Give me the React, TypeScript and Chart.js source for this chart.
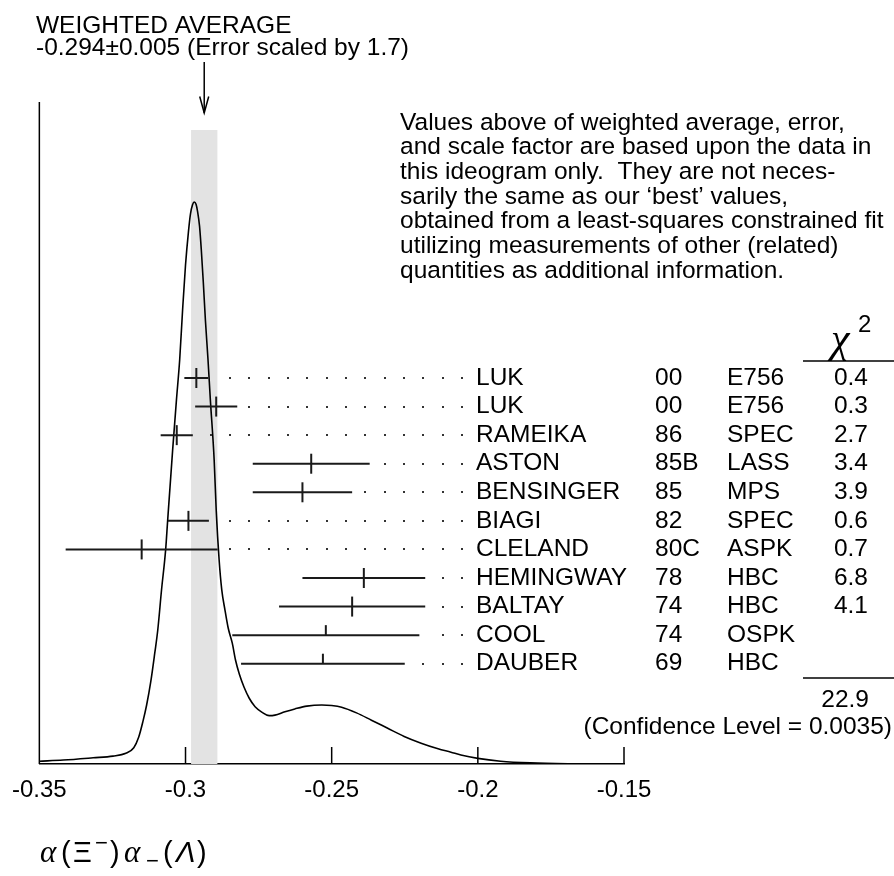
import React, { useEffect, useRef } from 'react';
import { Chart, registerables } from 'chart.js';

Chart.register(...registerables);

const FONT = "'Liberation Sans', Arial, Helvetica, sans-serif";
const SERIF = "'Liberation Serif', 'DejaVu Serif', serif";

const TITLE_LINES = ['WEIGHTED AVERAGE', '-0.294\u00b10.005 (Error scaled by 1.7)'];
const AVG_VALUE = -0.2936;
const AVG_ERROR = 0.0045;

const NOTE_LINES = [
  'Values above of weighted average, error,',
  'and scale factor are based upon the data in',
  'this ideogram only.  They are not neces-',
  'sarily the same as our \u2018best\u2019 values,',
  'obtained from a least-squares constrained fit',
  'utilizing measurements of other (related)',
  'quantities as additional information.',
];

const NAMES = ['LUK', 'LUK', 'RAMEIKA', 'ASTON', 'BENSINGER', 'BIAGI', 'CLELAND', 'HEMINGWAY', 'BALTAY', 'COOL', 'DAUBER'];
const YEARS = ['00', '00', '86', '85B', '85', '82', '80C', '78', '74', '74', '69'];
const TECHS = ['E756', 'E756', 'SPEC', 'LASS', 'MPS', 'SPEC', 'ASPK', 'HBC', 'HBC', 'OSPK', 'HBC'];
const VALUES = [-0.2963, -0.2895, -0.303, -0.257, -0.26, -0.299, -0.315, -0.239, -0.243, -0.252, -0.253];
const ERRORS = [0.0041, 0.0072, 0.0055, 0.02, 0.017, 0.007, 0.026, 0.021, 0.025, 0.032, 0.028];
const CHI2 = ['0.4', '0.3', '2.7', '3.4', '3.9', '0.6', '0.7', '6.8', '4.1', '', ''];
const CHI2_TOTAL = '22.9';
const CONFIDENCE = '(Confidence Level = 0.0035)';

const X_TICKS = [-0.35, -0.3, -0.25, -0.2, -0.15];
const X_TICK_LABELS = ['-0.35', '-0.3', '-0.25', '-0.2', '-0.15'];

const CURVE_X = [
  -0.35, -0.3418, -0.3316, -0.3248, -0.3204, -0.3177, -0.316, -0.3146, -0.3133, -0.3119,
  -0.3105, -0.3095, -0.3082, -0.3068, -0.3061, -0.3044, -0.3031, -0.302, -0.301, -0.3,
  -0.299, -0.2983, -0.2976, -0.297, -0.2964, -0.2959, -0.2952, -0.2946, -0.2939, -0.2932,
  -0.2923, -0.2915, -0.2902, -0.2895, -0.2885, -0.2876, -0.2865, -0.2854, -0.284, -0.2829,
  -0.2816, -0.28, -0.2782, -0.2762, -0.2738, -0.2714, -0.2694, -0.266, -0.2626, -0.2585,
  -0.2534, -0.25, -0.2466, -0.2415, -0.2364, -0.231, -0.2252, -0.2194, -0.2136, -0.2092,
  -0.2058, -0.2, -0.1922, -0.182, -0.1684, -0.15,
];
const CURVE_Y = [
  0.005, 0.007, 0.011, 0.014, 0.019, 0.029, 0.048, 0.075, 0.105, 0.146,
  0.198, 0.238, 0.31, 0.381, 0.434, 0.559, 0.648, 0.719, 0.808, 0.888,
  0.947, 0.979, 0.995, 1.0, 0.996, 0.984, 0.957, 0.915, 0.856, 0.79,
  0.719, 0.648, 0.541, 0.452, 0.363, 0.31, 0.274, 0.242, 0.215, 0.185,
  0.16, 0.137, 0.117, 0.102, 0.092, 0.086, 0.087, 0.093, 0.098, 0.103,
  0.105, 0.104, 0.101, 0.091, 0.078, 0.064, 0.049, 0.037, 0.027, 0.021,
  0.016, 0.01, 0.005, 0.002, 0.0005, 0,
];

export default function App() {
  const ref = useRef<HTMLCanvasElement>(null);

  useEffect(() => {
    const canvas = ref.current;
    if (!canvas) return;

    const seg = (ctx: CanvasRenderingContext2D, x1: number, y1: number, x2: number, y2: number) => {
      ctx.beginPath();
      ctx.moveTo(x1, y1);
      ctx.lineTo(x2, y2);
      ctx.stroke();
    };

    const ideogram = {
      id: 'ideogram',
      beforeDatasetsDraw(chart: any) {
        const { ctx, chartArea } = chart;
        const xs = chart.scales.x;
        ctx.save();
        const bl = xs.getPixelForValue(AVG_VALUE - AVG_ERROR);
        const br = xs.getPixelForValue(AVG_VALUE + AVG_ERROR);
        ctx.fillStyle = '#e3e3e3';
        ctx.fillRect(bl, 130, br - bl, chartArea.bottom - 130);
        ctx.strokeStyle = '#000';
        ctx.lineWidth = 1.5;
        seg(ctx, chartArea.left, chartArea.top, chartArea.left, chartArea.bottom);
        X_TICKS.slice(1).forEach((v) => {
          const px = xs.getPixelForValue(v);
          seg(ctx, px, chartArea.bottom, px, chartArea.bottom - 17);
        });
        ctx.restore();
      },
      afterDatasetsDraw(chart: any) {
        const { ctx } = chart;
        const xs = chart.scales.x;
        const ys = chart.scales.yRow;
        ctx.save();
        const nameX = 476;
        const dotEnd = nameX - 14;
        const dotStep = 19.33;
        VALUES.forEach((v, i) => {
          const y = ys.getPixelForValue(i);
          const x1 = xs.getPixelForValue(v - ERRORS[i]);
          const x2 = xs.getPixelForValue(v + ERRORS[i]);
          const xc = xs.getPixelForValue(v);
          ctx.strokeStyle = '#1a1a1a';
          ctx.lineWidth = 2;
          seg(ctx, x1, y, x2, y);
          const used = CHI2[i] !== '';
          seg(ctx, xc, y - 10, xc, used ? y + 10 : y);
          ctx.fillStyle = '#333';
          for (let dx = dotEnd; dx > x2 + 10; dx -= dotStep) {
            ctx.fillRect(Math.round(dx) - 1, Math.round(y) - 1, 2, 2);
          }
          ctx.fillStyle = '#000';
          ctx.font = `24.5px ${FONT}`;
          ctx.textBaseline = 'middle';
          ctx.textAlign = 'left';
          ctx.fillText(NAMES[i], nameX, y);
          ctx.fillText(YEARS[i], 655, y);
          ctx.fillText(TECHS[i], 727, y);
          ctx.textAlign = 'right';
          if (CHI2[i]) ctx.fillText(CHI2[i], 868, y);
        });

        // chi2 header and totals
        ctx.fillStyle = '#000';
        ctx.textAlign = 'left';
        ctx.textBaseline = 'alphabetic';
        ctx.font = `italic 42px ${SERIF}`;
        ctx.fillText('\u03c7', 831, 352);
        ctx.font = `24px ${FONT}`;
        ctx.fillText('2', 858, 332);
        ctx.strokeStyle = '#000';
        ctx.lineWidth = 1.5;
        seg(ctx, 803, 361, 894, 361);
        seg(ctx, 803, 678, 894, 678);
        ctx.font = `24.5px ${FONT}`;
        ctx.textAlign = 'right';
        ctx.textBaseline = 'middle';
        ctx.fillText(CHI2_TOTAL, 869, 700);
        ctx.fillText(CONFIDENCE, 892, 727);

        // note
        ctx.textAlign = 'left';
        ctx.textBaseline = 'alphabetic';
        NOTE_LINES.forEach((t, i) => ctx.fillText(t, 400, 129.5 + i * 24.7));

        // title
        ctx.font = `24.5px ${FONT}`;
        ctx.fillText(TITLE_LINES[0], 36, 33);
        ctx.fillText(TITLE_LINES[1], 36, 55);

        // arrow
        const ax = xs.getPixelForValue(AVG_VALUE);
        ctx.lineWidth = 1.5;
        seg(ctx, ax, 62, ax, 113);
        ctx.beginPath();
        ctx.moveTo(ax - 4.5, 96.5);
        ctx.lineTo(ax, 113);
        ctx.lineTo(ax + 4.5, 96.5);
        ctx.stroke();

        // axis title  alpha(Xi-)alpha_(Lambda)
        const base = 862;
        const big = `29px ${FONT}`;
        const ital = `italic 29px ${FONT}`;
        const greek = `italic 31px ${SERIF}`;
        const small = `22px ${FONT}`;
        const put = (t: string, font: string, x: number, dy = 0) => {
          ctx.font = font;
          ctx.fillText(t, x, base + dy);
        };
        put('\u03b1', greek, 40);
        put('(', big, 61);
        put('\u039e', big, 73);
        put('\u2212', small, 95, -12);
        put(')', big, 110);
        put('\u03b1', greek, 124);
        put('\u2212', small, 146, 6);
        put('(', big, 163);
        put('\u039b', ital, 176);
        put(')', big, 197);
        ctx.restore();
      },
    };

    const chart = new Chart(canvas, {
      type: 'line',
      data: {
        datasets: [
          {
            data: CURVE_X.map((x, i) => ({ x, y: CURVE_Y[i] })),
            xAxisID: 'x',
            yAxisID: 'y',
            borderColor: '#000',
            borderWidth: 1.6,
            pointRadius: 0,
            fill: false,
            cubicInterpolationMode: 'monotone',
          },
        ],
      },
      options: {
        responsive: false,
        animation: false,
        events: [],
        layout: { padding: { left: 36, right: 270, top: 102, bottom: 59.2 } },
        plugins: { legend: { display: false }, tooltip: { enabled: false }, title: { display: false } },
        scales: {
          x: {
            type: 'linear',
            min: -0.35,
            max: -0.15,
            afterBuildTicks: (s: any) => {
              s.ticks = X_TICKS.map((v) => ({ value: v }));
            },
            ticks: {
              callback: (_v: any, i: number) => X_TICK_LABELS[i],
              font: { family: FONT, size: 24 },
              color: '#000',
              padding: 12,
              maxRotation: 0,
              autoSkip: false,
            },
            grid: { display: false, drawTicks: false },
            border: { display: true, color: '#000', width: 1.5 },
          },
          y: { type: 'linear', min: 0, max: 1.178, display: false },
          yRow: { type: 'linear', min: -9.66, max: 13.51, reverse: true, display: false },
        },
      },
      plugins: [ideogram],
    } as any);

    return () => chart.destroy();
  }, []);

  return (
    <div style={{ position: 'fixed', left: 0, top: 0, width: 894, height: 876, background: '#fff' }}>
      <canvas ref={ref} width={894} height={876} style={{ display: 'block', width: 894, height: 876 }} />
    </div>
  );
}
